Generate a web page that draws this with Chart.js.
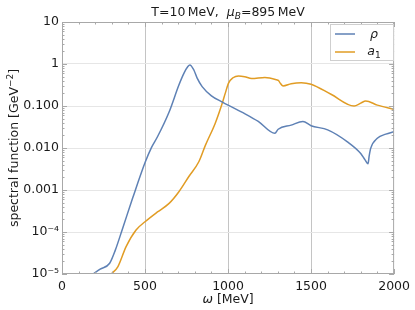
<!DOCTYPE html>
<html>
<head>
<meta charset="utf-8">
<script src="https://cdn.jsdelivr.net/npm/chart.js@4.4.1/dist/chart.umd.min.js"></script>
<style>
  html, body { margin: 0; padding: 0; background: #fff; }
  #wrap { width: 415px; height: 310px; }
</style>
</head>
<body>
<div id="wrap"><canvas id="chart" width="415" height="310"></canvas></div>
<script>
// omega in MeV, spectral function in GeV^-2
const rhoOmega = [187, 230, 287, 320, 366, 426, 502, 540, 575, 645, 704, 734, 758, 770, 794, 814, 844, 900, 963, 1000, 1100, 1182, 1282, 1302, 1380, 1451, 1500, 1600, 1719, 1799, 1825, 1843, 1850, 1859, 1899, 1950, 2000]
const rhoValues = [1.0e-5, 1.3e-5, 1.8e-5, 3.6e-5, 1.25e-4, 6.5e-4, 4.7e-3, 0.0105, 0.0185, 0.072, 0.316, 0.60, 0.87, 0.95, 0.72, 0.46, 0.29, 0.175, 0.126, 0.105, 0.066, 0.043, 0.0224, 0.028, 0.035, 0.043, 0.034, 0.027, 0.014, 0.0074, 0.0052, 0.0042, 0.0065, 0.0098, 0.017, 0.0214, 0.0245]

const a1Omega = [297, 336, 386, 446, 502, 575, 645, 704, 764, 824, 864, 923, 963, 983, 1003, 1030, 1063, 1100, 1142, 1222, 1292, 1305, 1312, 1331, 1380, 1441, 1500, 1620, 1759, 1799, 1829, 1899, 2000]
const a1Values = [1.0e-5, 1.48e-5, 4.5e-5, 1.12e-4, 1.78e-4, 3.0e-4, 4.8e-4, 9.1e-4, 2.1e-3, 4.7e-3, 0.0117, 0.039, 0.11, 0.20, 0.35, 0.47, 0.52, 0.50, 0.45, 0.48, 0.42, 0.40, 0.36, 0.30, 0.34, 0.36, 0.33, 0.19, 0.100, 0.117, 0.132, 0.105, 0.083]

const xTicks = [0, 500, 1000, 1500, 2000]
const yTicks = [1e-5, 1e-4, 1e-3, 1e-2, 1e-1, 1, 10]
const yTickLabels = ['10\u207B\u2075', '10\u207B\u2074', '0.001', '0.010', '0.100', '1', '10']

const FONT = 'DejaVu Sans'
const TEXT = '#1a1a1a'
const FRAME = '#a8a8a8'

// draw a list of text runs (font / vertical shift) centred on x
function drawRuns(ctx, runs, x, y) {
  let total = 0
  runs.forEach(r => { ctx.font = r.font; r.w = ctx.measureText(r.text).width; total += r.w })
  let cx = x - total / 2
  ctx.textAlign = 'left'
  ctx.textBaseline = 'alphabetic'
  runs.forEach(r => {
    ctx.font = r.font
    ctx.fillText(r.text, cx, y + (r.dy || 0))
    cx += r.w
  })
}

const decorPlugin = {
  id: 'decor',
  afterDraw(chart) {
    const { ctx, chartArea: a, scales: { x, y } } = chart
    ctx.save()

    // frame
    ctx.strokeStyle = FRAME
    ctx.lineWidth = 1
    ctx.strokeRect(a.left + 0.5, a.top + 0.5, a.right - a.left - 1, a.bottom - a.top - 1)

    // x ticks (inward, top and bottom)
    ctx.beginPath()
    for (let v = 0; v <= 2000; v += 100) {
      const px = Math.round(x.getPixelForValue(v)) + 0.5
      const len = v % 500 === 0 ? 5 : 2.5
      ctx.moveTo(px, a.bottom); ctx.lineTo(px, a.bottom - len)
      ctx.moveTo(px, a.top); ctx.lineTo(px, a.top + len)
    }
    // y ticks (inward, left and right)
    for (let d = -5; d <= 1; d++) {
      for (let k = 1; k <= 9; k++) {
        const v = k * Math.pow(10, d)
        if (v > 10) break
        const py = Math.round(y.getPixelForValue(v)) + 0.5
        const len = k === 1 ? 5 : 2.5
        ctx.moveTo(a.left, py); ctx.lineTo(a.left + len, py)
        ctx.moveTo(a.right, py); ctx.lineTo(a.right - len, py)
      }
    }
    ctx.stroke()

    ctx.fillStyle = TEXT
    const cx = (a.left + a.right) / 2

    // title
    drawRuns(ctx, [
      { text: 'T=10\u2009MeV,  ', font: `12.5px ${FONT}` },
      { text: '\u03BC', font: `italic 12.5px ${FONT}` },
      { text: 'B', font: `italic 9px ${FONT}`, dy: 3 },
      { text: '=895\u2009MeV', font: `12.5px ${FONT}` }
    ], cx, 16)

    // x axis title
    drawRuns(ctx, [
      { text: '\u03C9', font: `italic 12.5px ${FONT}` },
      { text: ' [MeV]', font: `12.5px ${FONT}` }
    ], cx, 303)

    // y axis title
    ctx.save()
    ctx.translate(17.5, (a.top + a.bottom) / 2)
    ctx.rotate(-Math.PI / 2)
    drawRuns(ctx, [
      { text: 'spectral function [GeV', font: `12.5px ${FONT}` },
      { text: '\u22122', font: `9px ${FONT}`, dy: -5 },
      { text: ']', font: `12.5px ${FONT}` }
    ], 0, 0)
    ctx.restore()

    // legend
    const lx = 330.5, ly = 24.5
    ctx.fillStyle = '#fff'
    ctx.fillRect(lx, ly, 63, 36)
    ctx.strokeStyle = '#cfcfcf'
    ctx.strokeRect(lx, ly, 63, 36)
    const ds = chart.data.datasets
    ;[34, 52].forEach((yy, i) => {
      ctx.strokeStyle = ds[i].borderColor
      ctx.lineWidth = 1.5
      ctx.beginPath()
      ctx.moveTo(335, yy); ctx.lineTo(355, yy)
      ctx.stroke()
    })
    ctx.fillStyle = TEXT
    drawRuns(ctx, [{ text: '\u03C1', font: `italic 12.5px ${FONT}` }], 374, 38)
    drawRuns(ctx, [
      { text: 'a', font: `italic 12.5px ${FONT}` },
      { text: '1', font: `9px ${FONT}`, dy: 3 }
    ], 374, 55)

    ctx.restore()
  }
}

const toPoints = (xs, ys) => xs.map((v, i) => ({ x: v, y: ys[i] }))

new Chart(document.getElementById('chart'), {
  type: 'line',
  data: {
    datasets: [
      {
        label: '\u03C1',
        data: toPoints(rhoOmega, rhoValues),
        borderColor: '#5e81b5',
        borderWidth: 1.5,
        pointRadius: 0,
        cubicInterpolationMode: 'monotone'
      },
      {
        label: 'a1',
        data: toPoints(a1Omega, a1Values),
        borderColor: '#e19c24',
        borderWidth: 1.5,
        pointRadius: 0,
        cubicInterpolationMode: 'monotone'
      }
    ]
  },
  options: {
    responsive: false,
    animation: false,
    layout: { padding: { top: 22, right: 18, left: 0, bottom: 0 } },
    plugins: {
      legend: { display: false },
      title: { display: false },
      tooltip: { enabled: false }
    },
    scales: {
      x: {
        type: 'linear',
        min: 0,
        max: 2000,
        afterBuildTicks: (scale) => { scale.ticks = xTicks.map(v => ({ value: v })) },
        afterFit: (scale) => { scale.height = 36 },
        border: { display: false },
        grid: {
          drawTicks: false,
          color: (c) => (c.tick && (c.tick.value === 0 || c.tick.value === 2000)) ? 'rgba(0,0,0,0)' : '#c4c4c4'
        },
        ticks: {
          padding: 5,
          color: TEXT,
          font: { family: FONT, size: 12.5 },
          maxRotation: 0,
          callback: (v) => String(v)
        }
      },
      y: {
        type: 'logarithmic',
        min: 1e-5,
        max: 10,
        afterBuildTicks: (scale) => { scale.ticks = yTicks.map(v => ({ value: v })) },
        afterFit: (scale) => { scale.width = 62 },
        border: { display: false },
        grid: {
          drawTicks: false,
          color: (c) => (c.tick && (c.tick.value === 1e-5 || c.tick.value === 10)) ? 'rgba(0,0,0,0)' : '#e6e6e6'
        },
        ticks: {
          padding: 3,
          color: TEXT,
          font: { family: FONT, size: 12.5 },
          callback: (v, i) => yTickLabels[i]
        }
      }
    }
  },
  plugins: [decorPlugin]
})
</script>
</body>
</html>
